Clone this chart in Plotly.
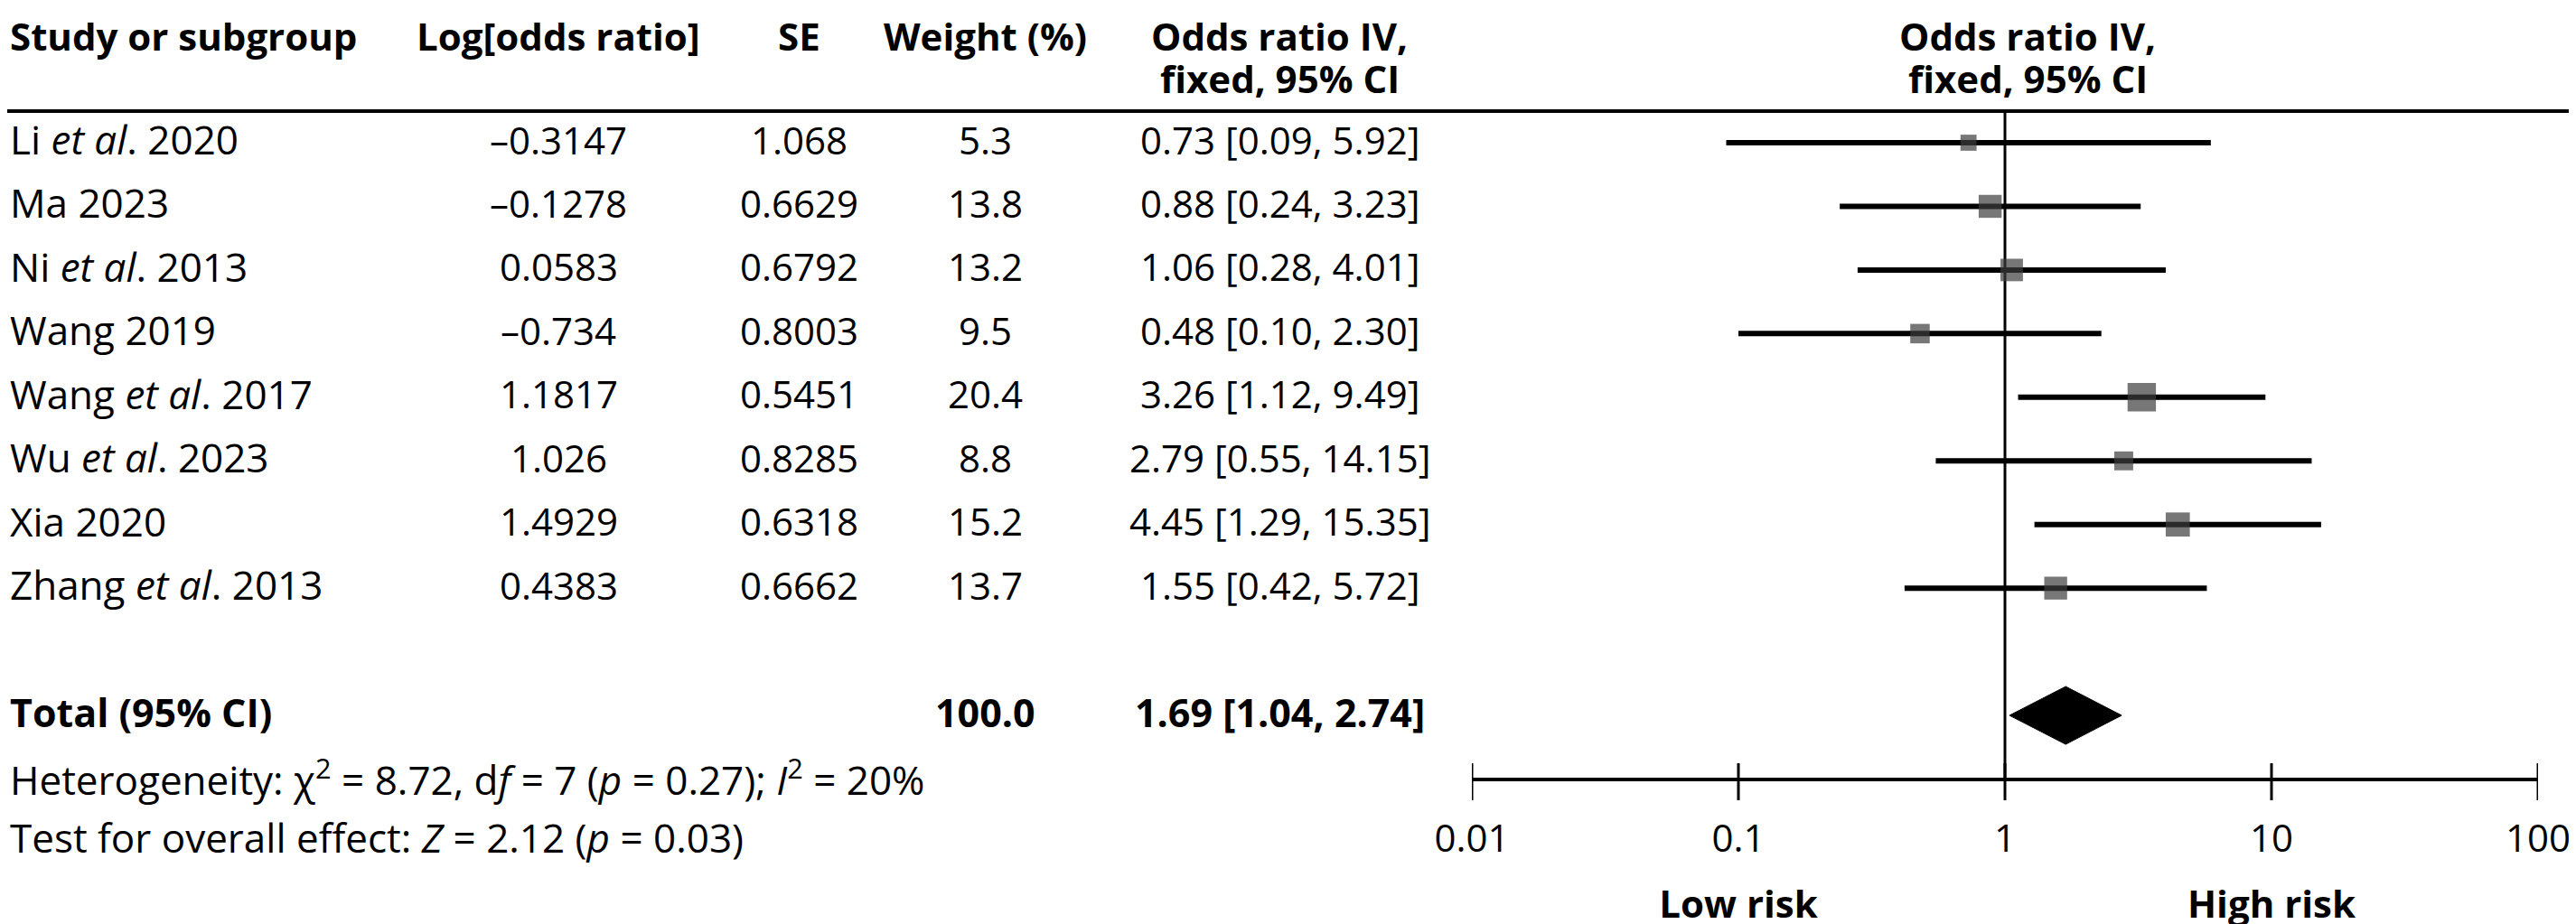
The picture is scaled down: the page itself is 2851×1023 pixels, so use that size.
import plotly.graph_objects as go

# ---------------- data ----------------
studies = ["Li <i>et al</i>. 2020", "Ma 2023", "Ni <i>et al</i>. 2013", "Wang 2019",
           "Wang <i>et al</i>. 2017", "Wu <i>et al</i>. 2023", "Xia 2020", "Zhang <i>et al</i>. 2013"]
log_or = [-0.3147, -0.1278, 0.0583, -0.734, 1.1817, 1.026, 1.4929, 0.4383]
se = [1.068, 0.6629, 0.6792, 0.8003, 0.5451, 0.8285, 0.6318, 0.6662]
weight = [5.3, 13.8, 13.2, 9.5, 20.4, 8.8, 15.2, 13.7]
odds = [0.73, 0.88, 1.06, 0.48, 3.26, 2.79, 4.45, 1.55]
ci_low = [0.09, 0.24, 0.28, 0.10, 1.12, 0.55, 1.29, 0.42]
ci_high = [5.92, 3.23, 4.01, 2.30, 9.49, 14.15, 15.35, 5.72]

total_weight = 100.0
total_or = 1.69
total_low = 1.04
total_high = 2.74

heterogeneity = "Heterogeneity: χ<sup>2</sup> = 8.72, d<i>f</i> = 7 (<i>p</i> = 0.27); <i>I</i><sup>2</sup> = 20%"
overall = "Test for overall effect: <i>Z</i> = 2.12 (<i>p</i> = 0.03)"

tick_vals = [0.01, 0.1, 1, 10, 100]
tick_text = ["0.01", "0.1", "1", "10", "100"]
side_labels = ["Low risk", "High risk"]
side_pos = [0.1, 10]

# ---------------- layout constants ----------------
W, H = 2851, 1023
FONT = "Open Sans"
FS_NUM = 42     # numeric cells
FS_TXT = 44     # regular text cells
FS_BOLD = 42    # bold headers / totals
ROW0, ROWH = 150.0, 70.45  # pixel y of first row and row pitch


def px2row(p):
    return (p - ROW0) / ROWH


def fx(p):
    return p / W


TOTAL_ROW = 9
AXIS_ROW = px2row(855)
HET_ROW = px2row(853)
TEST_ROW = px2row(919)
TICKLAB_ROW = px2row(924)
SIDE_ROW = px2row(997)
HDR1 = px2row(31)
HDR2 = px2row(78)
HLINE = px2row(115)

COL_STUDY = 2
COL_LOG = 610
COL_SE = 876
COL_W = 1082
COL_OR = 1408
COL_HDR_R = 2236

fig = go.Figure()

n = len(studies)
rows = list(range(n))


def fmt(v):
    return str(v).replace("-", "–")


# CI whiskers
xs, ys = [], []
for i in rows:
    xs += [ci_low[i], ci_high[i], None]
    ys += [i, i, None]
fig.add_trace(go.Scatter(x=xs, y=ys, mode="lines", line=dict(color="black", width=6),
                         hoverinfo="skip", cliponaxis=False))

# vertical line of no effect
fig.add_trace(go.Scatter(x=[1, 1], y=[HLINE, AXIS_ROW], mode="lines",
                         line=dict(color="black", width=3), hoverinfo="skip", cliponaxis=False))

# squares (size scales with weight)
fig.add_trace(go.Scatter(x=odds, y=rows, mode="markers",
                         marker=dict(symbol="square", color="#3d3d3d",
                                     size=[13 + 0.9 * w for w in weight], line=dict(width=0)),
                         cliponaxis=False))

# diamond for pooled estimate
dh = 32 / ROWH
fig.add_trace(go.Scatter(x=[total_low, total_or, total_high, total_or, total_low],
                         y=[TOTAL_ROW, TOTAL_ROW - dh, TOTAL_ROW, TOTAL_ROW + dh, TOTAL_ROW],
                         mode="lines", fill="toself", fillcolor="black",
                         line=dict(color="black", width=1), cliponaxis=False))

# x axis line and ticks
fig.add_trace(go.Scatter(x=[tick_vals[0], tick_vals[-1]], y=[AXIS_ROW, AXIS_ROW], mode="lines",
                         line=dict(color="black", width=4), cliponaxis=False))
tx, ty = [], []
for t in tick_vals:
    tx += [t, t, None]
    ty += [px2row(837), px2row(878), None]
fig.add_trace(go.Scatter(x=tx, y=ty, mode="lines", line=dict(color="black", width=3), cliponaxis=False))
fig.add_trace(go.Scatter(x=tick_vals, y=[TICKLAB_ROW] * len(tick_vals), mode="text", text=tick_text,
                         textfont=dict(family=FONT, size=42, color="black"), cliponaxis=False))
fig.add_trace(go.Scatter(x=side_pos, y=[SIDE_ROW] * 2, mode="text",
                         text=["<b>%s</b>" % s for s in side_labels],
                         textfont=dict(family=FONT, size=42, color="black"), cliponaxis=False))

annotations = []


def ann(text, xpx, row, anchor="center", bold=False, size=FS_NUM, shift=4):
    if bold:
        text = "<b>%s</b>" % text
    annotations.append(dict(text=text, x=fx(xpx), xref="paper", y=row, yref="y",
                            xanchor=anchor, yanchor="middle", showarrow=False, yshift=shift,
                            borderpad=0,
                            font=dict(family=FONT, size=size, color="black")))


# headers
for txt, col, anc in [("Study or subgroup", COL_STUDY, "left"), ("Log[odds ratio]", COL_LOG, "center"),
                      ("SE", COL_SE, "center"), ("Weight (%)", COL_W, "center"),
                      ("Odds ratio IV,", COL_OR, "center"), ("Odds ratio IV,", COL_HDR_R, "center")]:
    ann(txt, col, HDR1, anc, True, FS_BOLD, 0)
for col in (COL_OR, COL_HDR_R):
    ann("fixed, 95% CI", col, HDR2, "center", True, FS_BOLD, 0)

for i in rows:
    ann(studies[i], COL_STUDY, i, "left", size=FS_TXT)
    ann(fmt(log_or[i]), COL_LOG, i)
    ann(fmt(se[i]), COL_SE, i)
    ann(f"{weight[i]:.1f}", COL_W, i)
    ann(f"{odds[i]:.2f} [{ci_low[i]:.2f}, {ci_high[i]:.2f}]", COL_OR, i)

ann("Total (95% CI)", COL_STUDY, TOTAL_ROW, "left", True, 43)
ann(f"{total_weight:.1f}", COL_W, TOTAL_ROW, bold=True, size=43)
ann(f"{total_or:.2f} [{total_low:.2f}, {total_high:.2f}]", COL_OR, TOTAL_ROW, bold=True, size=43)
ann(heterogeneity, COL_STUDY, HET_ROW, "left", size=FS_TXT, shift=0)
ann(overall, COL_STUDY, TEST_ROW, "left", size=FS_TXT, shift=0)

fig.update_layout(
    width=W, height=H,
    margin=dict(l=0, r=0, t=0, b=0),
    paper_bgcolor="white", plot_bgcolor="white",
    showlegend=False,
    xaxis=dict(type="log", range=[-2, 2], domain=[1621 / W, 2801 / W], visible=False),
    yaxis=dict(range=[px2row(H), px2row(0)], domain=[0, 1], visible=False),
    annotations=annotations,
    shapes=[dict(type="line", xref="paper", yref="y", x0=0, x1=1, y0=HLINE, y1=HLINE,
                 line=dict(color="black", width=4))],
)

fig.write_html("out.html")
